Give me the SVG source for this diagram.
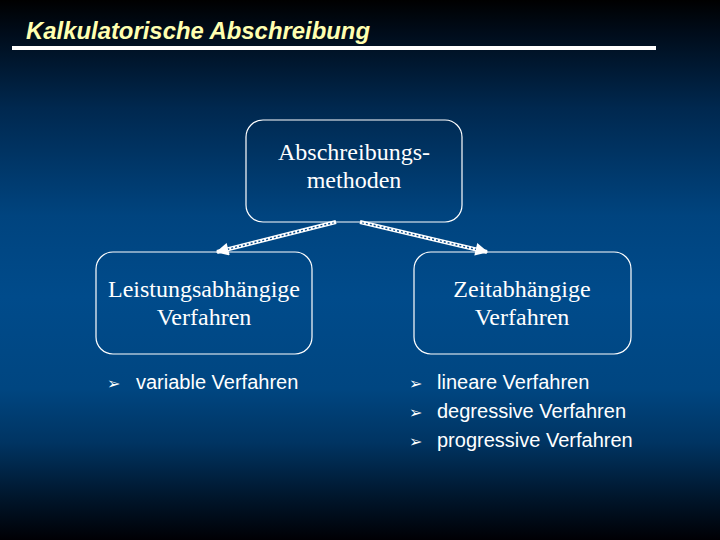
<svg xmlns="http://www.w3.org/2000/svg" width="720" height="540" viewBox="0 0 720 540">
<defs>
<linearGradient id="bg" x1="0" y1="0" x2="0" y2="1">
<stop offset="0" stop-color="#000000"/>
<stop offset="0.06" stop-color="#000c1a"/>
<stop offset="0.2" stop-color="#00284f"/>
<stop offset="0.4" stop-color="#00447f"/>
<stop offset="0.55" stop-color="#004b8b"/>
<stop offset="0.72" stop-color="#004681"/>
<stop offset="0.82" stop-color="#003462"/>
<stop offset="0.92" stop-color="#00162c"/>
<stop offset="1" stop-color="#000004"/>
</linearGradient>
<marker id="ah" viewBox="0 0 10 10" refX="9" refY="5" markerWidth="4" markerHeight="3.2" orient="auto" markerUnits="strokeWidth">
<path d="M0,0 L10,5 L0,10 z" fill="#ffffff"/>
</marker>
<style>
.box{fill:none;stroke:#ffffff;stroke-width:1.2}
.lbl{font-family:"Liberation Serif","Times New Roman",serif;font-size:24px;fill:#ffffff;text-anchor:middle}
.item{font-family:"Liberation Sans",Arial,sans-serif;font-size:20px;fill:#ffffff}
.bul{font-family:"DejaVu Sans",sans-serif;font-size:16px;fill:#ffffff}
.shaft{stroke:#ffffff;stroke-width:4;fill:none}
.hatch{stroke:#0a4a88;stroke-width:1.4;stroke-dasharray:2 2;fill:none}
</style>
</defs>
<rect x="0" y="0" width="720" height="540" fill="url(#bg)"/>
<g id="title">
<text x="26" y="39" font-family="Liberation Sans, Arial, sans-serif" font-size="24" font-weight="bold" font-style="italic" fill="#ffffb0" textLength="344" lengthAdjust="spacingAndGlyphs">Kalkulatorische Abschreibung</text>
<rect x="12" y="46" width="644" height="4" fill="#ffffff"/>
</g>
<g id="connectors">
<line class="shaft" x1="336" y1="222" x2="217" y2="252" marker-end="url(#ah)"/>
<line class="hatch" x1="334" y1="222.5" x2="228" y2="249.2"/>
<line class="shaft" x1="360" y1="222" x2="487" y2="252" marker-end="url(#ah)"/>
<line class="hatch" x1="362" y1="222.5" x2="476" y2="249.4"/>
</g>
<g id="node-methoden">
<rect class="box" x="246" y="120" width="216" height="102" rx="17"/>
<text class="lbl" x="354" y="160">Abschreibungs-</text>
<text class="lbl" x="354" y="188">methoden</text>
</g>
<g id="node-leistung">
<rect class="box" x="96" y="252" width="216" height="102" rx="17"/>
<text class="lbl" x="204" y="297">Leistungsabhängige</text>
<text class="lbl" x="204" y="325">Verfahren</text>
</g>
<g id="node-zeit">
<rect class="box" x="414" y="252" width="217" height="102" rx="17"/>
<text class="lbl" x="522" y="297">Zeitabhängige</text>
<text class="lbl" x="522" y="325">Verfahren</text>
</g>
<g id="list-left">
<text class="bul" x="107" y="389">➢</text>
<text class="item" x="136" y="389">variable Verfahren</text>
</g>
<g id="list-right">
<text class="bul" x="409" y="389">➢</text>
<text class="item" x="437" y="389">lineare Verfahren</text>
<text class="bul" x="409" y="418">➢</text>
<text class="item" x="437" y="418">degressive Verfahren</text>
<text class="bul" x="409" y="447">➢</text>
<text class="item" x="437" y="447">progressive Verfahren</text>
</g>
</svg>
